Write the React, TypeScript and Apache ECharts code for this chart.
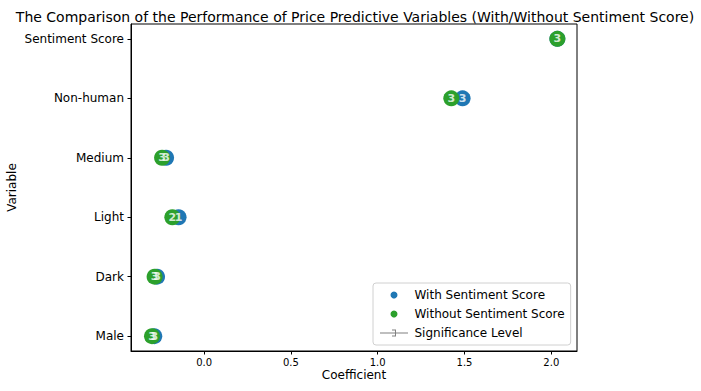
import React, { useEffect, useRef } from "react";
import * as echarts from "echarts";

const variables = ["Male", "Dark", "Light", "Medium", "Non-human", "Sentiment Score"];
const withSentiment = [-0.287, -0.271, -0.147, -0.219, 1.489, 2.035];
const withoutSentiment = [-0.3, -0.285, -0.183, -0.242, 1.424, 2.035];
const sigWith = [3, 3, 1, 3, 3, 3];
const sigWithout = [3, 3, 2, 3, 3, 3];
const xTicks = [0, 0.5, 1, 1.5, 2];

const BLUE = "#1f77b4";
const GREEN = "#2ca02c";
const GRAY = "#808080";
const FONT = "DejaVu Sans";

const sigIcon =
  "path://M0,3 L28,3 L28,4 L0,4 Z M12,0 L16,0 L16,1 L12,1 Z M12,6 L16,6 L16,7 L12,7 Z M15,0 L16,0 L16,7 L15,7 Z";

export default function App() {
  const ref = useRef<HTMLDivElement>(null);
  useEffect(() => {
    if (!ref.current) return;
    const chart = echarts.init(ref.current, null, { renderer: "svg" });
    const withPts = withSentiment.map((x, i) => [x, i, sigWith[i]]);
    const withoutPts = withoutSentiment.map((x, i) => [x, i, sigWithout[i]]);
    const links = variables.map((_, i) => [withoutSentiment[i], i, withSentiment[i]]);
    const labelStyle = {
      show: true,
      position: "inside",
      color: "#fff",
      fontSize: 11,
      fontWeight: "bold",
      fontFamily: FONT,
      formatter: (p: any) => String(p.value[2]),
    };
    chart.setOption({
      animation: false,
      backgroundColor: "#fff",
      textStyle: { fontFamily: FONT },
      title: {
        text: "The Comparison of the Performance of Price Predictive Variables (With/Without Sentiment Score)",
        left: 350,
        top: 5,
        textAlign: "center",
        textStyle: { fontSize: 14, fontWeight: "normal", color: "#000", fontFamily: FONT },
      },
      grid: {
        left: 131,
        top: 24,
        width: 446,
        height: 327,
        show: true,
        borderColor: "#000",
        borderWidth: 1,
        backgroundColor: "transparent",
        containLabel: false,
        outerBoundsMode: "none",
      },
      xAxis: {
        type: "value",
        min: -0.421,
        max: 2.148,
        name: "Coefficient",
        nameLocation: "middle",
        nameGap: 18,
        nameMoveOverlap: false,
        nameTextStyle: { fontSize: 12, color: "#000", fontFamily: FONT },
        axisLine: { show: true, onZero: false, lineStyle: { color: "#000" } },
        axisTick: { show: true, length: 3.5, lineStyle: { color: "#000" }, customValues: xTicks },
        axisLabel: {
          fontSize: 10,
          color: "#000",
          margin: 6,
          fontFamily: FONT,
          customValues: xTicks,
          formatter: (v: number) => v.toFixed(1),
        },
        splitLine: { show: false },
      },
      yAxis: {
        type: "value",
        min: -0.25,
        max: 5.25,
        name: "Variable",
        nameLocation: "middle",
        nameRotate: 90,
        nameGap: 113,
        nameMoveOverlap: false,
        nameTextStyle: { fontSize: 12, color: "#000", fontFamily: FONT },
        axisLine: { show: true, onZero: false, lineStyle: { color: "#000" } },
        axisTick: { show: true, length: 3.5, lineStyle: { color: "#000" }, customValues: [0, 1, 2, 3, 4, 5] },
        axisLabel: {
          fontSize: 12,
          color: "#000",
          margin: 7,
          fontFamily: FONT,
          customValues: [0, 1, 2, 3, 4, 5],
          formatter: (v: number) => variables[Math.round(v)] ?? "",
        },
        splitLine: { show: false },
      },
      legend: {
        orient: "vertical",
        left: 373,
        top: 283,
        padding: [5, 6, 5, 7],
        itemWidth: 31,
        itemHeight: 7,
        itemGap: 5,
        borderColor: "#d0d0d0",
        borderWidth: 1,
        borderRadius: 3,
        backgroundColor: "#fff",
        textStyle: { fontSize: 12, color: "#000", fontFamily: FONT, lineHeight: 14 },
        data: [
          { name: "With Sentiment Score", icon: "circle", itemStyle: { color: BLUE } },
          { name: "Without Sentiment Score", icon: "circle", itemStyle: { color: GREEN } },
          { name: "Significance Level", icon: sigIcon, itemStyle: { color: GRAY } },
        ],
      },
      series: [
        {
          name: "Significance Level",
          type: "custom",
          z: 1,
          encode: { x: [0, 2], y: 1 },
          data: links,
          itemStyle: { color: GRAY },
          renderItem: (params: any, api: any) => {
            const a = api.coord([api.value(0), api.value(1)]);
            const b = api.coord([api.value(2), api.value(1)]);
            return {
              type: "line",
              shape: { x1: a[0], y1: a[1], x2: b[0], y2: b[1] },
              style: { stroke: GRAY, lineWidth: 1.5 },
            };
          },
        },
        {
          name: "With Sentiment Score",
          type: "scatter",
          z: 2,
          symbol: "circle",
          symbolSize: 16,
          itemStyle: { color: BLUE, opacity: 1 },
          data: withPts,
        },
        {
          name: "Without Sentiment Score",
          type: "scatter",
          z: 3,
          symbol: "circle",
          symbolSize: 16,
          itemStyle: { color: GREEN, opacity: 1 },
          data: withoutPts,
        },
        {
          name: "withLabels",
          type: "scatter",
          z: 4,
          symbolSize: 1,
          itemStyle: { color: "rgba(0,0,0,0)" },
          label: labelStyle,
          data: withPts.slice(0, 5),
        },
        {
          name: "withoutLabels",
          type: "scatter",
          z: 5,
          symbolSize: 1,
          itemStyle: { color: "rgba(0,0,0,0)" },
          label: labelStyle,
          data: withoutPts,
        },
      ],
    });
    return () => chart.dispose();
  }, []);
  return (
    <div
      ref={ref}
      style={{ position: "absolute", left: 0, top: 0, width: 701, height: 391 }}
    />
  );
}
